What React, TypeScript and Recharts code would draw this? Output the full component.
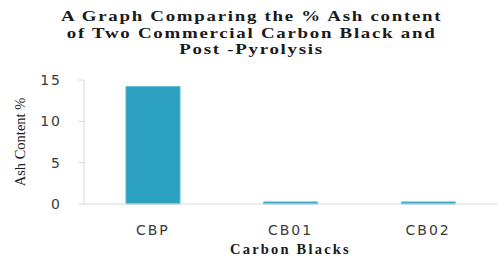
import React from "react";
import { BarChart, Bar, XAxis, YAxis, Label } from "recharts";

const categories = ["CBP", "CB01", "CB02"];
const ashValues = [14.2, 0.25, 0.25];
const yTicks = [0, 5, 10, 15];

const data = categories.map((c, i) => ({ name: c, ash: ashValues[i] }));

const titleLines = [
  "A Graph Comparing the % Ash content",
  "of Two Commercial Carbon Black and",
  "Post -Pyrolysis",
];

export default function App() {
  return (
    <div style={{ position: "absolute", left: 0, top: 0, width: 497, height: 256, background: "#fff" }}>
      <div
        style={{
          position: "absolute",
          left: 0,
          top: 8,
          width: 497,
          textAlign: "center",
          fontFamily: "'Liberation Serif', serif",
          fontWeight: "bold",
          fontSize: 15.5,
          lineHeight: "16.5px",
          letterSpacing: 1.4,
          color: "#1a1a1a",
          transform: "scaleX(1.22)",
          transformOrigin: "251px 0",
        }}
      >
        {titleLines.map((l, i) => (
          <div key={i} style={{ paddingLeft: 6 }}>{l}</div>
        ))}
      </div>
      <BarChart width={497} height={256} data={data} margin={{ top: 80, right: 0, left: 0, bottom: 0 }} barCategoryGap="30.5%">
        <XAxis
          dataKey="name"
          height={52}
          tickLine={false}
          tickMargin={15}
          stroke="#d9d9d9"
          tick={{ fill: "#3a3a3a", fontSize: 14, fontFamily: "'DejaVu Sans', sans-serif", letterSpacing: 2 }}
        >
          <Label
            value="Carbon Blacks"
            position="insideBottom"
            offset={2}
            style={{ fill: "#1a1a1a", fontSize: 14.5, fontWeight: "bold", fontFamily: "'Liberation Serif', serif", letterSpacing: 2.2 }}
          />
        </XAxis>
        <YAxis
          width={84}
          domain={[0, 15]}
          ticks={yTicks}
          tickSize={6}
          tickMargin={16}
          stroke="#d9d9d9"
          tick={{ fill: "#3a3a3a", fontSize: 14, fontFamily: "'DejaVu Sans', sans-serif", letterSpacing: 2 }}
        >
          <Label
            value="Ash Content %"
            angle={-90}
            position="insideLeft"
            offset={20}
            style={{ textAnchor: "middle", fill: "#1a1a1a", fontSize: 14.5, fontFamily: "'Liberation Serif', serif" }}
          />
        </YAxis>
        <Bar dataKey="ash" fill="#2ba0bf" stroke="#5cbbd2" strokeWidth={1} isAnimationActive={false} />
      </BarChart>
    </div>
  );
}
